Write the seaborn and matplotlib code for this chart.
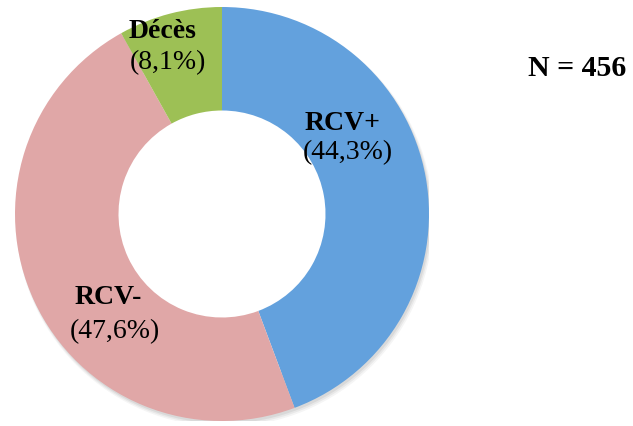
import matplotlib
matplotlib.use("Agg")
import matplotlib.pyplot as plt
from matplotlib.patches import Wedge
import seaborn as sns

# data
labels = ["RCV+", "RCV-", "Décès"]
percents = [44.3, 47.6, 8.1]
pct_labels = ["(44,3%)", "(47,6%)", "(8,1%)"]
colors = ["#63A1DD", "#E0A7A7", "#9DC055"]
total_n = 456

sns.set_theme(style="white")
plt.rcParams["font.family"] = ["Liberation Serif", "DejaVu Serif"]

W, H = 633, 426
fig = plt.figure(figsize=(W / 100, H / 100), dpi=100)

# donut centre and radius in pixels
cx, cy, r = 222, 214, 207
ax = fig.add_axes([(cx - r) / W, (H - cy - r) / H, 2 * r / W, 2 * r / H])

# soft shadow under outer edge
for i, a in enumerate([0.06, 0.08, 0.10]):
    d = 0.012 + 0.004 * (2 - i)
    ax.add_patch(Wedge((d * 0.6, -d), 1.0 + 0.004 * (2 - i), 0, 360, width=0.2,
                       facecolor="#555555", alpha=a, linewidth=0))

wedges, _ = ax.pie(percents, colors=colors, startangle=90, counterclock=False,
                   radius=1, wedgeprops=dict(width=0.5, linewidth=0))
ax.set_xlim(-1, 1)
ax.set_ylim(-1, 1)
ax.set_aspect("auto")
ax.axis("off")

def put(x, y, s, bold=False, size=20):
    fig.text(x / W, 1 - y / H, s, ha="center", va="center", fontsize=size,
             fontweight="bold" if bold else "normal", color="black")

# label positions in pixels
put(343, 123, labels[0], True)
put(348, 153, pct_labels[0])
put(108, 297, labels[1], True)
put(115, 332, pct_labels[1])
put(163, 32, labels[2], True)
put(168, 63, pct_labels[2])
put(577, 68, f"N = {total_n}", True, size=21.5)

fig.savefig("out.png", dpi=100)
